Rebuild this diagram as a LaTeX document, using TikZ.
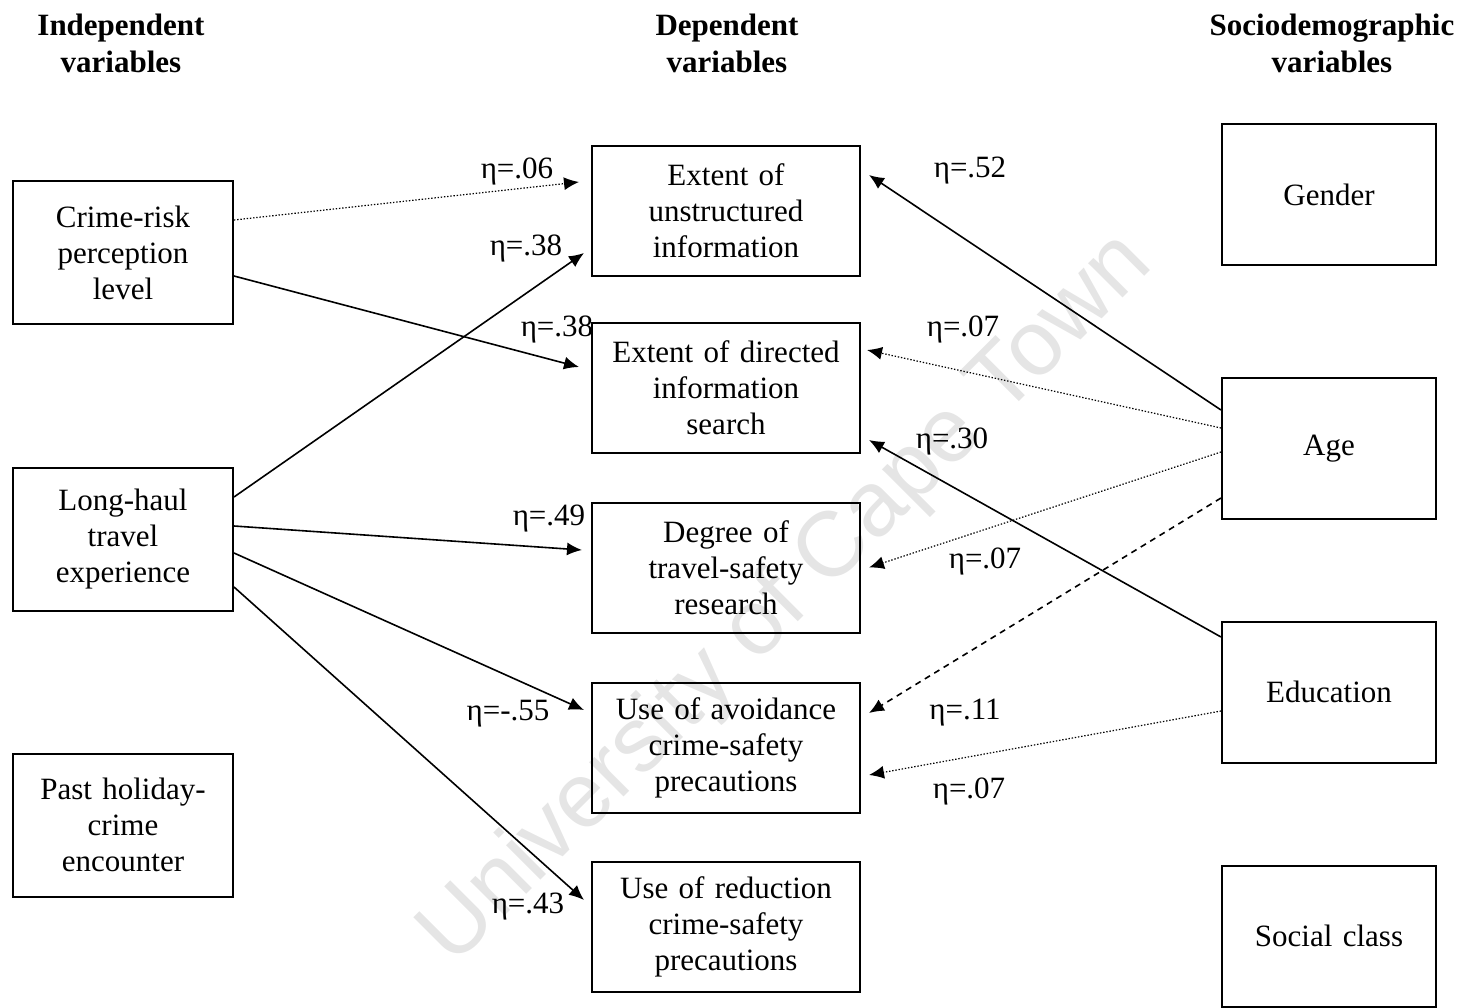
\documentclass[tikz,border=0pt]{standalone}
\usepackage{fontspec}
\setmainfont{Liberation Serif}
\newfontfamily\wmfont{Liberation Sans}
\usetikzlibrary{arrows.meta}
\newcommand{\upby}[1]{\par\vspace{#1}}
\begin{document}
\begin{tikzpicture}[x=0.5pt,y=-0.5pt,
  every node/.style={font=\fontsize{15.5pt}{18pt}\selectfont},
  leftbox/.style={draw,line width=1pt,inner sep=0pt,minimum width=110pt,minimum height=71.5pt,text width=100pt,align=center},
  midbox/.style={draw,line width=1pt,inner sep=0pt,minimum width=134pt,minimum height=65pt,text width=124pt,align=center},
  rightbox/.style={draw,line width=1pt,inner sep=0pt,minimum width=107pt,minimum height=70.5pt,text width=100pt,align=center},
  header/.style={align=center,font=\fontsize{15.5pt}{18.5pt}\selectfont\bfseries},
  lbl/.style={inner sep=0pt},
  conn/.style={line width=0.8pt,-{Latex[length=7.5pt,width=6.5pt]}},
  dotconn/.style={conn,line width=0.6pt,dash pattern=on 0.7pt off 0.9pt},
  dashconn/.style={conn,dash pattern=on 3pt off 2.5pt}]
\useasboundingbox (0,0) rectangle (1462,1007);
% watermark
\node[rotate=45,text=black!10,font=\wmfont\fontsize{46pt}{50pt}\selectfont] (wm) at (787,600) {University of Cape Town};
% headers
\node[header] (h1) at (121,43) {Independent\\variables};
\node[header] (h2) at (727,43) {Dependent\\variables};
\node[header] (h3) at (1332,43) {Sociodemographic\\variables};
% left boxes
\node[leftbox] (crime) at (123,252.5) {Crime-risk\\perception\\level\upby{6pt}};
\node[leftbox] (long) at (123,539) {Long-haul\\travel\\experience\upby{3pt}};
\node[leftbox] (past) at (123,825) {Past holiday-\\crime\\encounter\upby{5pt}};
% middle boxes
\node[midbox] (unstr) at (726,210.5) {Extent of\\unstructured\\information};
\node[midbox] (dir) at (726,387.5) {Extent of directed\\information\\search};
\node[midbox] (deg) at (726,567.5) {Degree of\\travel-safety\\research};
\node[midbox] (avoid) at (726,748) {Use of avoidance\\crime-safety\\precautions};
\node[midbox] (red) at (726,927) {Use of reduction\\crime-safety\\precautions};
% right boxes
\node[rightbox] (gender) at (1329,194.5) {Gender\upby{5pt}};
\node[rightbox] (age) at (1329,448.5) {Age};
\node[rightbox] (edu) at (1329,692) {Education\upby{5pt}};
\node[rightbox] (soc) at (1329,936) {Social class\upby{3pt}};
% connectors
\draw[dotconn] ([yshift=16.25pt]crime.east) -- ([xshift=-6pt,yshift=14.25pt]unstr.west);
\draw[conn] ([yshift=-11.75pt]crime.east) -- ([xshift=-6pt,yshift=10.25pt]dir.west);
\draw[conn] ([yshift=21pt]long.east) -- ([xshift=-3.5pt,yshift=-21.25pt]unstr.west);
\draw[conn] ([yshift=6.5pt]long.east) -- ([xshift=-4.5pt,yshift=8.75pt]deg.west);
\draw[conn] ([yshift=-7pt]long.east) -- ([xshift=-3.5pt,yshift=19pt]avoid.west);
\draw[conn] ([yshift=-24pt]long.east) -- ([xshift=-3.5pt,yshift=13.5pt]red.west);
\draw[conn] ([yshift=19.25pt]age.west) -- ([xshift=4pt,yshift=17.75pt]unstr.east);
\draw[dotconn] ([yshift=10.25pt]age.west) -- ([xshift=3pt,yshift=18.75pt]dir.east);
\draw[dotconn] ([yshift=-1.75pt]age.west) -- ([xshift=4pt,yshift=0pt]deg.east);
\draw[dashconn] ([yshift=-24.75pt]age.west) -- ([xshift=4pt,yshift=17.5pt]avoid.east);
\draw[conn] ([yshift=27.5pt]edu.west) -- ([xshift=4pt,yshift=-26.25pt]dir.east);
\draw[dotconn] ([yshift=-9.5pt]edu.west) -- ([xshift=4pt,yshift=-13.5pt]avoid.east);
% labels
\node[lbl] (l1) at (517,171) {η=.06};
\node[lbl] (l2) at (526,248) {η=.38};
\node[lbl] (l3) at (557,329) {η=.38};
\node[lbl] (l4) at (970,171) {η=.52};
\node[lbl] (l5) at (963,329) {η=.07};
\node[lbl] (l6) at (952,441) {η=.30};
\node[lbl] (l7) at (549,519) {η=.49};
\node[lbl] (l8) at (985,561) {η=.07};
\node[lbl] (l9) at (508,714) {η=-.55};
\node[lbl] (l10) at (965,713) {η=.11};
\node[lbl] (l11) at (969,791) {η=.07};
\node[lbl] (l12) at (528,907) {η=.43};
\end{tikzpicture}
\end{document}
